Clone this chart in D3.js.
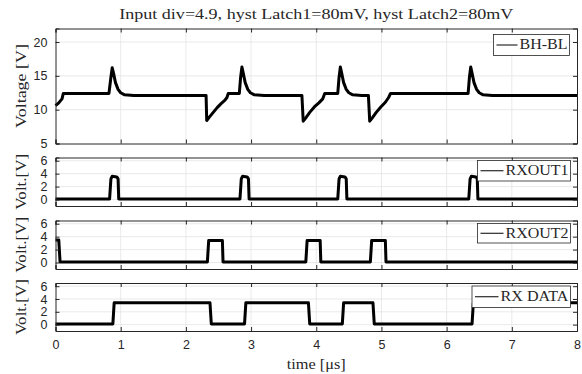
<!DOCTYPE html>
<html>
<head>
<meta charset="utf-8">
<script src="https://cdn.jsdelivr.net/npm/d3@7"></script>
<style>
  body { margin: 0; background: #fff; }
  svg { display: block; }
</style>
</head>
<body>
<div id="viz"></div>
<script>
'use strict';

const titleText = 'Input div=4.9, hyst Latch1=80mV, hyst Latch2=80mV';
const timeTicks = [0, 1, 2, 3, 4, 5, 6, 7, 8];

// BH-BL differential bus voltage, [time us, volt]
const bhblTrace = [
  [0, 10.6], [0.05, 11.0], [0.1, 11.6], [0.12, 12.4], [0.82, 12.4],
  [0.85, 14.8], [0.87, 16.2], [0.89, 15.4], [0.92, 14.0], [0.96, 13.0],
  [1.0, 12.5], [1.06, 12.2], [1.2, 12.1], [2.31, 12.1], [2.32, 8.4],
  [2.36, 8.9], [2.42, 9.6], [2.48, 10.3], [2.54, 10.9], [2.6, 11.4],
  [2.63, 11.8], [2.65, 12.4], [2.82, 12.4], [2.84, 14.8], [2.86, 16.3],
  [2.88, 15.4], [2.91, 14.0], [2.95, 13.0], [2.99, 12.5], [3.05, 12.2],
  [3.2, 12.1], [3.78, 12.1], [3.8, 8.3], [3.84, 8.8], [3.9, 9.6],
  [3.97, 10.4], [4.04, 11.0], [4.1, 11.6], [4.13, 12.4], [4.33, 12.4],
  [4.35, 14.8], [4.37, 16.3], [4.39, 15.4], [4.42, 14.0], [4.46, 13.0],
  [4.5, 12.5], [4.56, 12.2], [4.7, 12.1], [4.8, 12.1], [4.82, 8.3],
  [4.86, 8.8], [4.92, 9.6], [4.99, 10.4], [5.06, 11.1], [5.11, 11.8],
  [5.14, 12.4], [6.33, 12.4], [6.35, 14.8], [6.37, 16.3], [6.39, 15.4],
  [6.42, 14.0], [6.46, 13.0], [6.5, 12.5], [6.56, 12.2], [6.7, 12.1],
  [8, 12.1]
];

const rxout1Trace = [
  [0, 0.1], [0.83, 0.1], [0.85, 3.2], [0.87, 3.6], [0.94, 3.5], [0.96, 3.2],
  [0.97, 0.1], [2.83, 0.1], [2.85, 3.2], [2.87, 3.6], [2.94, 3.5],
  [2.96, 3.2], [2.97, 0.1], [4.33, 0.1], [4.35, 3.2], [4.37, 3.6],
  [4.44, 3.5], [4.46, 3.2], [4.47, 0.1], [6.34, 0.1], [6.36, 3.2],
  [6.38, 3.6], [6.45, 3.5], [6.47, 3.2], [6.48, 0.1], [8, 0.1]
];

const rxout2Trace = [
  [0, 3.5], [0.05, 3.5], [0.07, 0.1], [2.33, 0.1], [2.35, 3.4],
  [2.56, 3.4], [2.57, 0.1], [3.84, 0.1], [3.86, 3.4], [4.06, 3.4],
  [4.07, 0.1], [4.83, 0.1], [4.85, 3.4], [5.06, 3.4], [5.07, 0.1],
  [8, 0.1]
];

const rxDataTrace = [
  [0, 0.1], [0.88, 0.1], [0.9, 3.4], [2.37, 3.4], [2.39, 0.1],
  [2.9, 0.1], [2.92, 3.4], [3.88, 3.4], [3.9, 0.1], [4.4, 0.1],
  [4.42, 3.4], [4.87, 3.4], [4.89, 0.1], [6.39, 0.1], [6.41, 3.4],
  [8, 3.4]
];

const panels = [
  {trace: bhblTrace, name: 'BH-BL', label: 'Voltage [V]', domain: [5, 22], ticks: [5, 10, 15, 20], top: 28.5, bottom: 143.5},
  {trace: rxout1Trace, name: 'RXOUT1', label: 'Volt.[V]', domain: [-1, 6.5], ticks: [0, 2, 4, 6], top: 157.5, bottom: 206},
  {trace: rxout2Trace, name: 'RXOUT2', label: 'Volt.[V]', domain: [-1, 6.5], ticks: [0, 2, 4, 6], top: 220.5, bottom: 269},
  {trace: rxDataTrace, name: 'RX DATA', label: 'Volt.[V]', domain: [-1, 6.5], ticks: [0, 2, 4, 6], top: 283, bottom: 331}
];

// legend box geometry per panel: box x, box width, text width
const legendBoxes = [
  {x: 493.5, w: 76, textW: 48, top: 6, h: 21},
  {x: 477.5, w: 93, textW: 63, top: 3, h: 20.5},
  {x: 477.5, w: 93, textW: 63, top: 3, h: 19.5},
  {x: 472, w: 98.5, textW: 68, top: 3, h: 21.5}
];

const W = 582;
const H = 374;
const left = 55.5;
const right = 577;
const axisColor = '#262626';
const serif = '"Liberation Serif", "Times New Roman", serif';
const sans = '"Liberation Sans", Arial, sans-serif';

const svg = d3.select('#viz')
  .append('svg')
    .attr('width', W)
    .attr('height', H);

const x = d3.scaleLinear()
  .domain([0, 8])
  .range([left, right]);

svg.append('text')
  .attr('x', (left + right) / 2)
  .attr('y', 19)
  .attr('text-anchor', 'middle')
  .attr('font-family', serif)
  .attr('font-size', 14)
  .attr('textLength', 394)
  .attr('lengthAdjust', 'spacingAndGlyphs')
  .attr('fill', axisColor)
  .text(titleText);

panels.forEach((p, i) => {
  const y = d3.scaleLinear()
    .domain(p.domain)
    .range([p.bottom, p.top]);

  const g = svg.append('g');

  g.append('rect')
    .attr('x', left)
    .attr('y', p.top)
    .attr('width', right - left)
    .attr('height', p.bottom - p.top)
    .attr('fill', '#fff');

  // grid
  g.selectAll('.vgrid')
    .data(timeTicks.slice(1, -1))
    .join('line')
      .attr('x1', d => x(d)).attr('x2', d => x(d))
      .attr('y1', p.top).attr('y2', p.bottom)
      .attr('stroke', '#e3e3e3')
      .attr('stroke-width', 0.8);

  g.selectAll('.hgrid')
    .data(p.ticks.filter(t => y(t) > p.top + 1 && y(t) < p.bottom - 1))
    .join('line')
      .attr('x1', left).attr('x2', right)
      .attr('y1', d => y(d)).attr('y2', d => y(d))
      .attr('stroke', '#e3e3e3')
      .attr('stroke-width', 0.8);

  // trace
  g.append('path')
    .datum(p.trace)
    .attr('fill', 'none')
    .attr('stroke', '#000')
    .attr('stroke-width', 3)
    .attr('stroke-linejoin', 'round')
    .attr('d', d3.line()
      .x(d => x(d[0]))
      .y(d => y(d[1])));

  // axes, inward ticks on all sides
  const bottomAxis = d3.axisBottom(x).tickValues(timeTicks).tickSize(-4).tickPadding(9);
  if (i < panels.length - 1)
    bottomAxis.tickFormat('');

  const axB = g.append('g')
    .attr('transform', `translate(0,${p.bottom})`)
    .call(bottomAxis);
  const axT = g.append('g')
    .attr('transform', `translate(0,${p.top})`)
    .call(d3.axisTop(x).tickValues(timeTicks).tickSize(-4).tickFormat(''));
  const axL = g.append('g')
    .attr('transform', `translate(${left},0)`)
    .call(d3.axisLeft(y).tickValues(p.ticks).tickSize(-4).tickPadding(8));
  const axR = g.append('g')
    .attr('transform', `translate(${right},0)`)
    .call(d3.axisRight(y).tickValues(p.ticks).tickSize(-4).tickFormat(''));

  [axB, axT, axL, axR].forEach(ax => {
    ax.select('.domain').attr('stroke', axisColor).attr('stroke-width', 1);
    ax.selectAll('.tick line').attr('stroke', axisColor);
    ax.selectAll('.tick text')
      .attr('fill', axisColor)
      .attr('font-family', sans)
      .attr('font-size', 12.5);
  });

  // y label
  g.append('text')
    .attr('transform', `translate(23,${(p.top + p.bottom) / 2}) rotate(-90)`)
    .attr('text-anchor', 'middle')
    .attr('dominant-baseline', 'middle')
    .attr('font-family', serif)
    .attr('font-size', 14)
    .attr('textLength', i === 0 ? 84 : 56)
    .attr('lengthAdjust', 'spacingAndGlyphs')
    .attr('fill', axisColor)
    .text(p.label);

  // legend
  const b = legendBoxes[i];
  const ly = p.top + b.top;
  const lg = g.append('g');
  lg.append('rect')
    .attr('x', b.x).attr('y', ly)
    .attr('width', b.w).attr('height', b.h)
    .attr('fill', '#fff')
    .attr('stroke', axisColor)
    .attr('stroke-width', 0.8);
  lg.append('line')
    .attr('x1', b.x + 3).attr('x2', b.x + b.w - b.textW - 4)
    .attr('y1', ly + b.h / 2).attr('y2', ly + b.h / 2)
    .attr('stroke', '#000')
    .attr('stroke-width', 1);
  lg.append('text')
    .attr('x', b.x + b.w - 2 - b.textW)
    .attr('y', ly + b.h / 2 + 1)
    .attr('dominant-baseline', 'middle')
    .attr('font-family', serif)
    .attr('font-size', 15)
    .attr('textLength', b.textW)
    .attr('lengthAdjust', 'spacingAndGlyphs')
    .attr('fill', axisColor)
    .text(p.name);
});

svg.append('text')
  .attr('x', (left + right) / 2)
  .attr('y', 369)
  .attr('text-anchor', 'middle')
  .attr('font-family', serif)
  .attr('font-size', 14)
  .attr('textLength', 59)
  .attr('lengthAdjust', 'spacingAndGlyphs')
  .attr('fill', axisColor)
  .text('time [μs]');
</script>
</body>
</html>
